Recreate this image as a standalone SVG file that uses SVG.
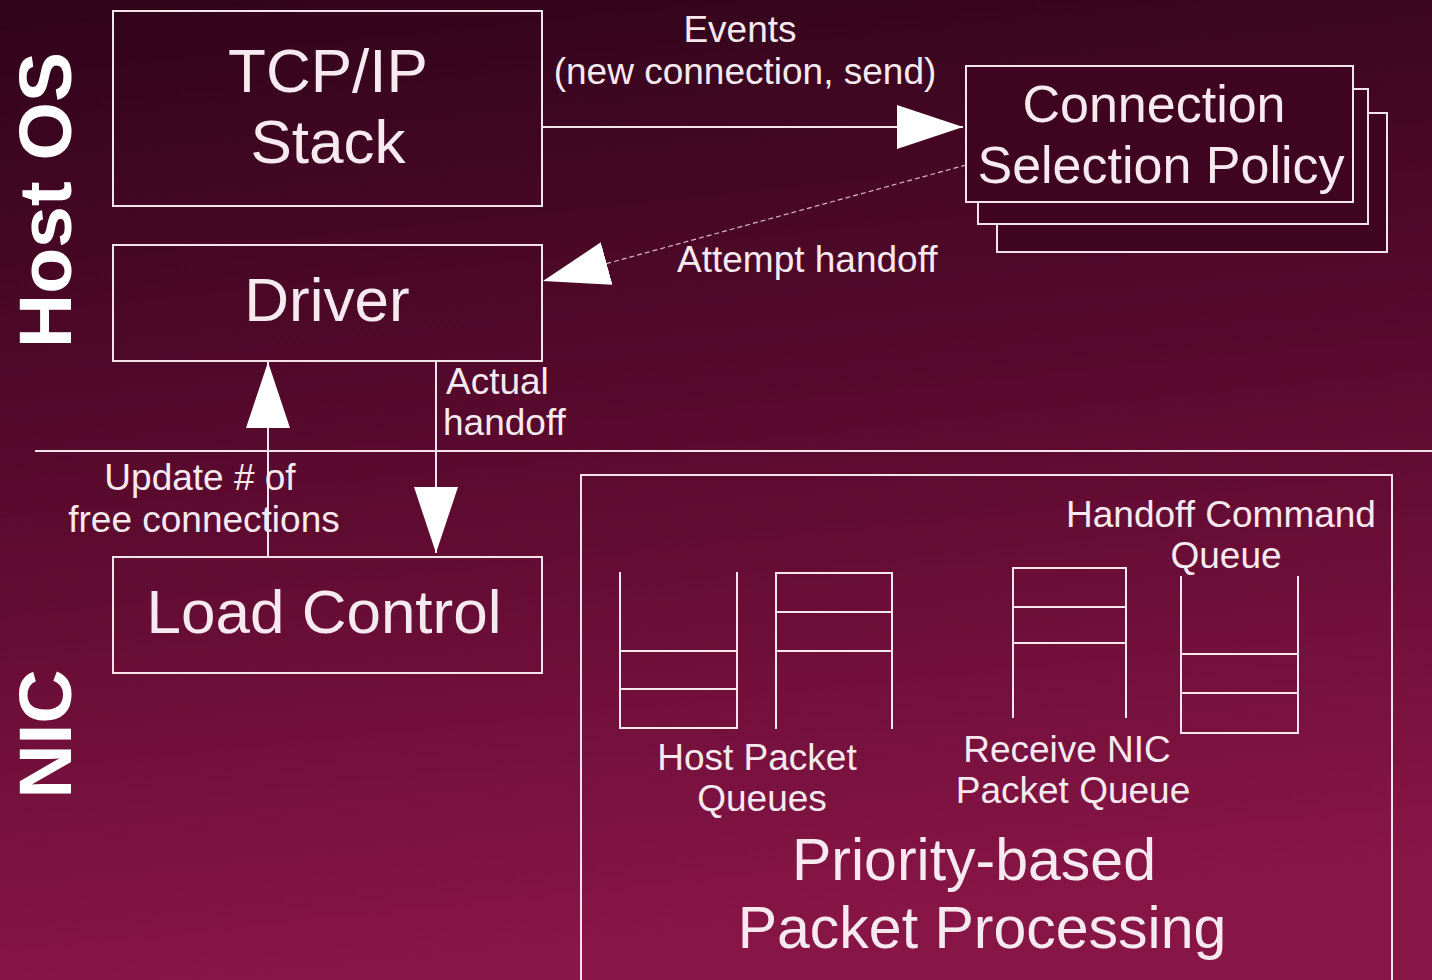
<svg xmlns="http://www.w3.org/2000/svg" width="1432" height="980" viewBox="0 0 1432 980">
  <defs>
    <linearGradient id="bg" x1="0" y1="0" x2="0.15" y2="1">
      <stop offset="0" stop-color="#30041a"/>
      <stop offset="0.5" stop-color="#5a0a2e"/>
      <stop offset="1" stop-color="#871546"/>
    </linearGradient>
    <marker id="head" viewBox="0 0 66 44" refX="66" refY="22" markerWidth="66" markerHeight="44" markerUnits="userSpaceOnUse" orient="auto">
      <polygon points="0,0 66,22 0,44" fill="#ffffff"/>
    </marker>
    <style>
      .box { fill: none; stroke: #f2e4ea; stroke-width: 2; }
      .stack { fill: #3f0520; stroke: #f2e4ea; stroke-width: 2; }
      .q { fill: none; stroke: #f4e8ee; stroke-width: 2; }
      .edge { fill: none; stroke: #f2e4ea; stroke-width: 2; }
      .dash { fill: none; stroke: #d8b8c6; stroke-width: 1.2; stroke-dasharray: 5 3; }
      text { font-family: "Liberation Sans", Arial, sans-serif; fill: #f6eaf0; }
      .big { font-size: 62px; text-anchor: middle; }
      .mid { font-size: 52px; text-anchor: middle; }
      .lbl { font-size: 37px; }
      .c { text-anchor: middle; }
      .side { font-size: 75px; font-weight: bold; text-anchor: middle; fill: #ffffff; }
    </style>
  </defs>

  <rect width="1432" height="980" fill="url(#bg)"/>

  <!-- layer labels -->
  <text class="side" transform="translate(71,200) rotate(-90)">Host OS</text>
  <text class="side" transform="translate(71,734) rotate(-90)">NIC</text>

  <!-- host / NIC boundary -->
  <line x1="35" y1="451" x2="1432" y2="451" stroke="#f2e4ea" stroke-width="2"/>

  <g id="tcpip">
    <rect class="box" x="113" y="11" width="429" height="195"/>
    <text class="big" x="328" y="92">TCP/IP</text>
    <text class="big" x="328" y="163">Stack</text>
  </g>

  <g id="driver">
    <rect class="box" x="113" y="245" width="429" height="116"/>
    <text class="big" x="327" y="321">Driver</text>
  </g>

  <g id="load-control">
    <rect class="box" x="113" y="557" width="429" height="116"/>
    <text class="big" x="324" y="633">Load Control</text>
  </g>

  <g id="policy">
    <rect class="stack" x="997" y="113" width="390" height="139"/>
    <rect class="stack" x="978" y="89" width="390" height="135"/>
    <rect class="stack" x="966" y="66" width="387" height="136"/>
    <text class="mid" x="1154" y="122">Connection</text>
    <text class="mid" x="1161" y="183">Selection Policy</text>
  </g>

  <g id="packet-processing">
    <rect class="box" x="581" y="475" width="811" height="520"/>
    <!-- host packet queues -->
    <path class="q" d="M620,572 V728 H737 V572 M620,651 H737 M620,689 H737"/>
    <path class="q" d="M776,729 V573 H892 V729 M776,612 H892 M776,651 H892"/>
    <!-- receive NIC packet queue -->
    <path class="q" d="M1013,718 V568 H1126 V718 M1013,607 H1126 M1013,643 H1126"/>
    <!-- handoff command queue -->
    <path class="q" d="M1181,576 V733 H1298 V576 M1181,654 H1298 M1181,693 H1298"/>
    <text class="lbl c" x="1221" y="527">Handoff Command</text>
    <text class="lbl c" x="1226" y="568">Queue</text>
    <text class="lbl c" x="757" y="770">Host Packet</text>
    <text class="lbl c" x="762" y="811">Queues</text>
    <text class="lbl c" x="1067" y="762">Receive NIC</text>
    <text class="lbl c" x="1073" y="803">Packet Queue</text>
    <text class="big" x="974" y="880" style="font-size:59px">Priority-based</text>
    <text class="big" x="982" y="948" style="font-size:59px">Packet Processing</text>
  </g>

  <g id="connectors">
    <line class="edge" x1="542" y1="127" x2="963" y2="127" marker-end="url(#head)"/>
    <line class="dash" x1="966" y1="165" x2="543" y2="281" marker-end="url(#head)"/>
    <line class="edge" x1="268" y1="557" x2="268" y2="362" marker-end="url(#head)"/>
    <line class="edge" x1="436" y1="361" x2="436" y2="553" marker-end="url(#head)"/>
    <text class="lbl c" x="740" y="42">Events</text>
    <text class="lbl c" x="745" y="84">(new connection, send)</text>
    <text class="lbl" x="677" y="272">Attempt handoff</text>
    <text class="lbl" x="446" y="394">Actual</text>
    <text class="lbl" x="443" y="435">handoff</text>
    <text class="lbl c" x="200" y="490">Update # of</text>
    <text class="lbl c" x="204" y="532">free connections</text>
  </g>
</svg>
